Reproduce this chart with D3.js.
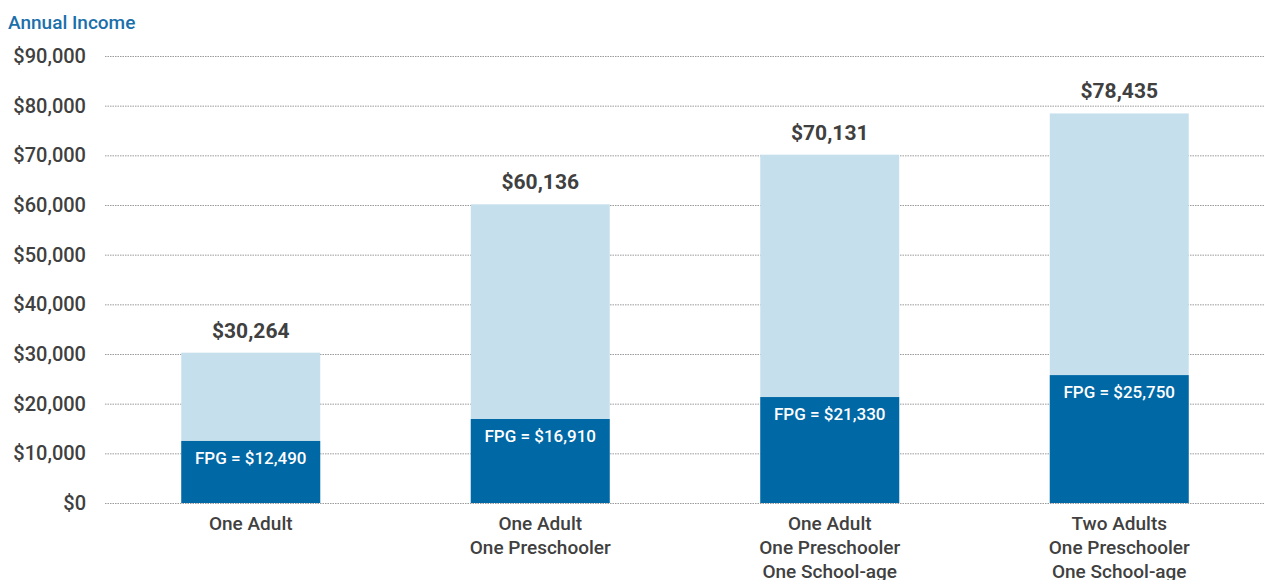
<!DOCTYPE html>
<html>
<head>
<meta charset="utf-8">
<script src="https://cdn.jsdelivr.net/npm/d3@7"></script>
<style>
  body { margin: 0; background: #fff; }
  text { font-family: Roboto, "Liberation Sans", Arial, sans-serif; font-weight: 500; }
</style>
</head>
<body>
<div id="container-div"></div>
<script>
// data
var categories = [
    ["One Adult"],
    ["One Adult", "One Preschooler"],
    ["One Adult", "One Preschooler", "One School-age"],
    ["Two Adults", "One Preschooler", "One School-age"]
];
var fpgValues = [12490, 16910, 21330, 25750];
var totalValues = [30264, 60136, 70131, 78435];
var yTicks = [0, 10000, 20000, 30000, 40000, 50000, 60000, 70000, 80000, 90000];

var width = 1265, height = 580;
var plotLeft = 105, plotRight = 1265, plotTop = 56, plotBottom = 503;

let viz = d3.select("#container-div").append("svg")
    .attr("width", width)
    .attr("height", height)
    .attr("id", "viz");

var x = d3.scaleBand()
    .domain(d3.range(categories.length))
    .range([plotLeft + 1, plotRight - 1])
    .paddingInner(0.52)
    .paddingOuter(0.26);

var y = d3.scaleLinear()
    .domain([0, 90000])
    .range([plotBottom, plotTop]);

var money = d3.format("$,");

// title
viz.append("text")
    .attr("x", 8)
    .attr("y", 29)
    .attr("fill", "#1b6fab")
    .attr("font-size", "19px")
    .text("Annual Income");

// gridlines + tick labels
var yAxis = d3.axisLeft(y)
    .tickValues(yTicks)
    .tickSize(-(plotRight - plotLeft))
    .tickPadding(19)
    .tickFormat(money);

var axisG = viz.append("g")
    .attr("transform", "translate(" + plotLeft + ",0)")
    .call(yAxis);

axisG.select(".domain").remove();
axisG.selectAll(".tick line")
    .attr("stroke", "#9a9a9a")
    .attr("stroke-width", 1)
    .attr("stroke-dasharray", "1.5,1");
axisG.selectAll(".tick text")
    .attr("fill", "#404040")
    .attr("font-size", "20px")
    .attr("font-family", "Roboto, Liberation Sans, Arial, sans-serif");

// bars
var groups = viz.selectAll("empty").data(totalValues).enter()
    .append("g")
    .attr("class", "groups");

groups.append("rect")
    .attr("x", function(d, i) { return x(i); })
    .attr("y", function(d) { return y(d); })
    .attr("width", x.bandwidth())
    .attr("height", function(d) { return y(0) - y(d); })
    .attr("fill", "#c6dfed");

groups.append("rect")
    .attr("x", function(d, i) { return x(i); })
    .attr("y", function(d, i) { return y(fpgValues[i]); })
    .attr("width", x.bandwidth())
    .attr("height", function(d, i) { return y(0) - y(fpgValues[i]); })
    .attr("fill", "#0068a5");

// total labels
groups.append("text")
    .attr("x", function(d, i) { return x(i) + x.bandwidth() / 2; })
    .attr("y", function(d) { return y(d) - 15; })
    .attr("text-anchor", "middle")
    .attr("font-size", "21px")
    .style("font-weight", "bold")
    .attr("fill", "#404040")
    .text(function(d) { return money(d); });

// FPG labels
groups.append("text")
    .attr("x", function(d, i) { return x(i) + x.bandwidth() / 2; })
    .attr("y", function(d, i) { return y(fpgValues[i]) + 23; })
    .attr("text-anchor", "middle")
    .attr("font-size", "17px")
    .attr("fill", "#ffffff")
    .text(function(d, i) { return "FPG = " + money(fpgValues[i]); });

// category labels
var catText = groups.append("text")
    .attr("text-anchor", "middle")
    .attr("font-size", "19px")
    .attr("fill", "#404040");

catText.selectAll("tspan")
    .data(function(d, i) { return categories[i].map(function(s) { return {s: s, i: i}; }); })
    .enter().append("tspan")
    .attr("x", function(d) { return x(d.i) + x.bandwidth() / 2; })
    .attr("y", function(d, j) { return 530 + j * 24; })
    .text(function(d) { return d.s; });
</script>
</body>
</html>
